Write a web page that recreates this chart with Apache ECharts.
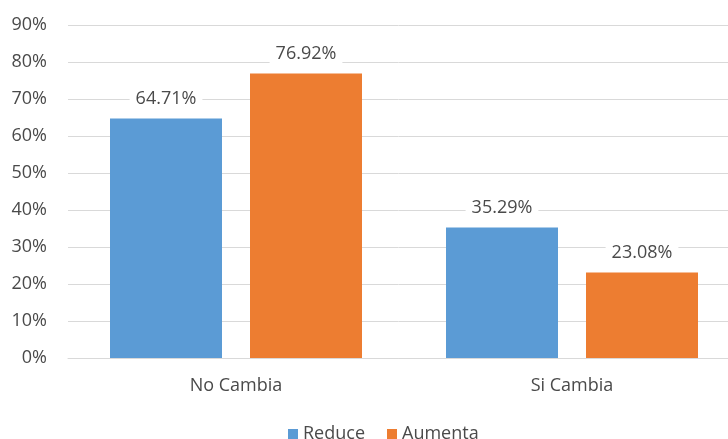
<!DOCTYPE html>
<html>
<head>
<meta charset="utf-8">
<script src="https://cdn.jsdelivr.net/npm/echarts@6/dist/echarts.min.js"></script>
<style>
  html, body { margin: 0; padding: 0; background: #fff; }
  #chart { width: 728px; height: 439px; }
</style>
</head>
<body>
<div id="chart"></div>
<script>
const categories = ["No Cambia", "Si Cambia"];
const reduceValues = [64.71, 35.29];
const aumentaValues = [76.92, 23.08];
const yTicks = { min: 0, max: 90, interval: 10 };

const chart = echarts.init(document.getElementById("chart"));

const font = "Open Sans";
const textColor = "#4a4a4a";

const labelStyle = {
  show: true,
  position: "top",
  distance: 9,
  color: textColor,
  fontFamily: font,
  fontSize: 18,
  backgroundColor: "#fff",
  padding: [2, 6],
  formatter: (p) => p.value.toFixed(2) + "%",
};

chart.setOption({
  animation: false,
  textStyle: { fontFamily: font },
  grid: {
    left: 68,
    top: 25,
    width: 672,
    height: 333,
    outerBoundsMode: "none",
  },
  legend: {
    top: 420,
    left: 283,
    itemWidth: 10,
    itemHeight: 10,
    itemGap: 22,
    icon: "rect",
    textStyle: { color: textColor, fontSize: 18, fontFamily: font },
    data: ["Reduce", "Aumenta"],
  },
  xAxis: {
    type: "category",
    data: categories,
    axisTick: { show: false },
    axisLine: { lineStyle: { color: "#d9d9d9", width: 1 } },
    axisLabel: { color: textColor, fontSize: 18, margin: 19 },
  },
  yAxis: {
    type: "value",
    min: yTicks.min,
    max: yTicks.max,
    interval: yTicks.interval,
    axisLine: { show: false },
    axisTick: { show: false },
    splitLine: { lineStyle: { color: "#d9d9d9", width: 1 } },
    axisLabel: { color: textColor, fontSize: 18, margin: 21, formatter: "{value}%" },
  },
  series: [
    {
      name: "Reduce",
      type: "bar",
      data: reduceValues,
      barWidth: 112,
      barGap: "25%",
      itemStyle: { color: "#5b9bd5" },
      label: labelStyle,
    },
    {
      name: "Aumenta",
      type: "bar",
      data: aumentaValues,
      barWidth: 112,
      itemStyle: { color: "#ed7d31" },
      label: labelStyle,
    },
  ],
});
</script>
</body>
</html>
